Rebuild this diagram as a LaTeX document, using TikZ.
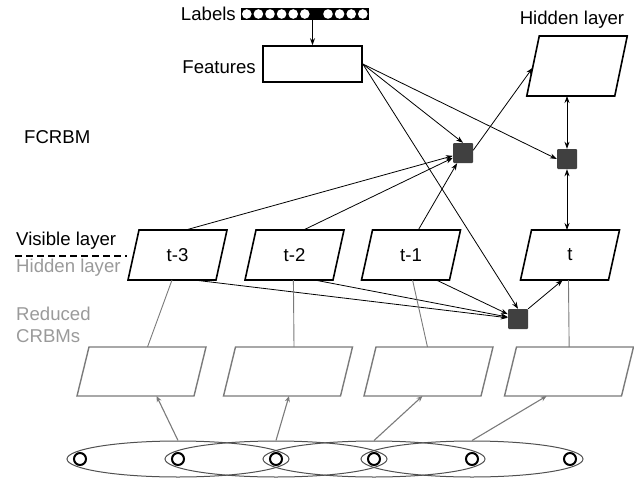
\documentclass[tikz,border=0pt]{standalone}
\usepackage{fontspec}
\setmainfont{Liberation Sans}
\usetikzlibrary{shapes.geometric,arrows.meta,calc}
\definecolor{facc}{HTML}{404040}
\definecolor{redc}{HTML}{7A7A7A}
\definecolor{gtext}{HTML}{9A9A9A}
\definecolor{ellc}{HTML}{505050}
% parallelogram: name, cx, cy, bottom width, height, slant, style, text
\newcommand\mypara[8]{%
  \coordinate (#1-bl) at ({#2-(#4+#6)/2},{#3+#5/2});
  \coordinate (#1-br) at ({#2-(#4+#6)/2+#4},{#3+#5/2});
  \coordinate (#1-tr) at ({#2+(#4+#6)/2},{#3-#5/2});
  \coordinate (#1-tl) at ({#2+(#4+#6)/2-#4},{#3-#5/2});
  \draw[#7] (#1-bl) -- (#1-br) -- (#1-tr) -- (#1-tl) -- cycle;
  \node[lbl] (#1) at (#2,#3) {#8};}
\begin{document}
\begin{tikzpicture}[x=1pt,y=-1pt,
  font=\fontsize{18.6}{22}\selectfont,
  arr/.style={-{Stealth[length=7pt,width=5pt]}},
  darr/.style={{Stealth[length=7pt,width=5pt]}-{Stealth[length=7pt,width=5pt]}},
  garr/.style={-{Stealth[length=6pt,width=5pt]}, draw=redc, line width=1.1pt},
  link/.style={line width=0.8pt},
  glink/.style={draw=redc, line width=0.9pt},
  visbox/.style={draw, line width=1.6pt, line join=miter},
  redbox/.style={draw=redc, line width=1.4pt},
  fac/.style={fill=facc, minimum size=20pt, inner sep=0pt, rounded corners=1pt},
  bigell/.style={ellipse, draw=ellc, line width=1pt, minimum width=222pt, minimum height=36pt, inner sep=0pt},
  unit/.style={circle, draw, fill=white, line width=2pt, minimum size=12pt, inner sep=0pt},
  lunit/.style={circle, fill=white, minimum size=9.6pt, inner sep=0pt},
  lbl/.style={inner sep=0pt}
]
\useasboundingbox (0,0) rectangle (634,479);

% Labels bar
\node[fill=black, minimum width=128pt, minimum height=12pt, inner sep=0pt] (lab) at (305,14) {};
\foreach \i in {0,...,5} {\node[lunit] (lu\i) at (246.8+11.6*\i,14) {};}
\foreach \i in {7,...,10} {\node[lunit] (lu\i) at (246.8+11.6*\i,14) {};}
\node[lbl, anchor=east] (labtxt) at (236,14) {Labels};

% Features
\node[draw, line width=1.6pt, minimum width=99pt, minimum height=36pt, inner sep=0pt] (feat) at (312.5,64) {};
\node[lbl, anchor=east] (feattxt) at (256,67) {Features};
\draw[arr, link] (feat.north |- lab.south) -- (feat.north);

% Hidden layer (top)
\mypara{hid}{577}{66}{88}{60}{12.5}{visbox}{}
\node[lbl] (hidtxt) at (572,20) {Hidden layer};
\node[lbl, anchor=west] (fcrbm) at (24,137) {FCRBM};

% Factors
\node[fac] (sq1) at (463,153) {};
\node[fac] (sq2) at (567,159) {};
\node[fac] (sq3) at (518,319) {};

% Visible layer
\mypara{t3}{177.5}{255}{88}{50}{11}{visbox}{t-3}
\mypara{t2}{294.5}{255}{88}{50}{11}{visbox}{t-2}
\mypara{t1}{411}{255}{88}{50}{11}{visbox}{t-1}
\mypara{t}{570}{255}{88}{50}{11}{visbox}{t}

% Left labels
\node[lbl, anchor=west] (vistxt) at (16,241) {Visible layer};
\node[lbl, anchor=west, text=gtext] (hidtxt2) at (16,268) {Hidden layer};
\node[lbl, anchor=west, text=gtext] (redtxt) at (16,314) {Reduced};
\node[lbl, anchor=west, text=gtext] (crbmtxt) at (16,336) {CRBMs};
\coordinate (dashL) at (15,256);
\coordinate (dashR) at (127,256);
\draw[line width=1.5pt, dash pattern=on 7pt off 4pt] (dashL) -- (dashR);

% Reduced CRBMs
\mypara{g1}{141.5}{371.5}{117}{49}{12}{redbox}{}
\mypara{g2}{288}{371.5}{117}{49}{12}{redbox}{}
\mypara{g3}{428.5}{371.5}{117}{49}{12}{redbox}{}
\mypara{g4}{569}{371.5}{117}{49}{12}{redbox}{}

% Bottom ellipses and units
\node[bigell] (e1) at (178,459) {};
\node[bigell] (e2) at (276,459) {};
\node[bigell] (e3) at (374,459) {};
\node[bigell] (e4) at (472,459) {};
\foreach \i/\x in {1/80,2/178,3/276,4/374,5/472,6/570} {\node[unit] (u\i) at (\x,459) {};}

% Features connections
\draw[arr, link] (feat.east) -- (sq1.north);
\draw[arr, link] (feat.east) -- (sq2.west);
\draw[arr, link] (feat.east) -- (sq3.north);

% Past visible to factor 1
\draw[arr, link] ($(t3-tl)!0.53!(t3-tr)$) -- (sq1);
\draw[arr, link] ($(t2-tl)!0.54!(t2-tr)$) -- (sq1);
\draw[arr, link] ($(t1-tl)!0.52!(t1-tr)$) -- (sq1);
\draw[arr, link] (sq1.15) -- ($(hid-bl)!0.47!(hid-tl)$);

% Factor 2
\draw[darr, link] (sq2.north) -- (sq2.north |- hid-bl);
\draw[darr, link] (sq2.south) -- (sq2.south |- t-tl);

% Past visible to factor 3
\draw[arr, link] ($(t3-bl)!0.75!(t3-br)$) -- (sq3);
\draw[arr, link] ($(t2-bl)!0.79!(t2-br)$) -- (sq3);
\draw[arr, link] ($(t1-bl)!0.85!(t1-br)$) -- (sq3);
\draw[arr, link] (sq3.north east) -- ($(t-bl)!0.48!(t-br)$);

% Visible to reduced CRBMs
\draw[glink] ($(t3-bl)!0.5!(t3-br)$) -- ($(g1-tl)!0.5!(g1-tr)$);
\draw[glink] ($(t2-bl)!0.55!(t2-br)$) -- ($(g2-tl)!0.5!(g2-tr)$);
\draw[glink] ($(t1-bl)!0.58!(t1-br)$) -- ($(g3-tl)!0.44!(g3-tr)$);
\draw[glink] ($(t-bl)!0.545!(t-br)$) -- ($(g4-tl)!0.45!(g4-tr)$);

% Ellipses to reduced CRBMs
\draw[garr] (e1.north) -- ($(g1-bl)!0.68!(g1-br)$);
\draw[garr] (e2.north) -- ($(g2-bl)!0.56!(g2-br)$);
\draw[garr] (e3.north) -- ($(g3-bl)!0.50!(g3-br)$);
\draw[garr] (e4.north) -- ($(g4-bl)!0.36!(g4-br)$);
\end{tikzpicture}
\end{document}
